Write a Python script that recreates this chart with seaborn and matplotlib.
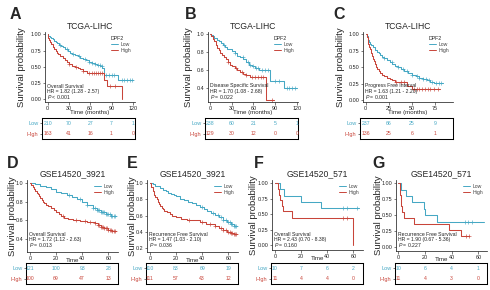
import numpy as np
import matplotlib
matplotlib.use('Agg')
import matplotlib.pyplot as plt
import seaborn as sns
from matplotlib.lines import Line2D

LOW = '#46a8c4'
HIGH = '#c8453a'

# ---- A: TCGA-LIHC, overall survival ----
a_low_t = [0, 1, 3, 5, 7, 9, 11, 13, 16, 19, 22, 25, 28, 31, 34, 38, 42, 46, 50, 54, 58, 62, 66, 70, 74, 77, 80, 99]
a_low_s = [1, .98, .96, .94, .92, .90, .88, .86, .84, .82, .80, .78, .75, .72, .70, .68, .66, .64, .62, .60, .58, .56, .54, .53, .51, .48, .37, .30]
a_low_c = [18, 27, 36, 44, 52, 58, 63, 67, 71, 73, 76, 82, 86, 90, 94, 104, 108, 112, 116, 119]
a_low_end = 120
a_high_t = [0, 1, 2, 3, 5, 7, 9, 11, 13, 15, 18, 21, 24, 27, 30, 34, 38, 42, 46, 50, 55, 80, 84, 105]
a_high_s = [1, .95, .91, .88, .85, .81, .78, .75, .72, .69, .66, .63, .61, .58, .55, .52, .50, .48, .46, .44, .40, .30, .20, 0]
a_high_c = [30, 40, 50, 58, 62, 65, 68, 71, 74, 77, 88, 95]
a_high_end = 105
a_risk_low = [210, 70, 27, 7, 1]
a_risk_high = [163, 41, 16, 1, 0]

# ---- B: TCGA-LIHC, disease specific survival ----
b_low_t = [0, 2, 4, 6, 9, 12, 15, 18, 21, 24, 27, 30, 34, 38, 42, 46, 50, 54, 58, 62, 68, 83, 102]
b_low_s = [1, .99, .98, .96, .94, .92, .90, .88, .86, .84, .83, .81, .79, .76, .74, .72, .69, .66, .64, .62, .60, .48, .40]
b_low_c = [20, 35, 45, 52, 56, 60, 64, 67, 72, 76, 80, 90, 95, 106, 110, 114, 118]
b_low_end = 120
b_high_t = [0, 2, 4, 6, 8, 10, 12, 14, 16, 19, 22, 25, 28, 31, 34, 38, 42, 46, 50, 55, 78]
b_high_s = [1, .98, .95, .92, .88, .85, .82, .79, .77, .74, .72, .69, .66, .64, .62, .60, .58, .56, .54, .52, .26]
b_high_c = [25, 36, 44, 50, 58, 62, 66, 70, 74, 86]
b_high_end = 88
b_risk_low = [238, 60, 21, 5, 1]
b_risk_high = [129, 30, 12, 0, 0]

# ---- C: TCGA-LIHC, progress free interval ----
c_low_t = [0, 1, 2, 3, 4, 5, 6, 8, 10, 12, 14, 16, 18, 20, 23, 26, 29, 32, 35, 38, 42, 46, 50, 54, 58, 62, 66, 70, 74]
c_low_s = [1, .97, .94, .91, .88, .86, .84, .80, .76, .73, .71, .69, .66, .64, .61, .58, .55, .52, .50, .47, .44, .41, .38, .36, .34, .32, .30, .28, .26]
c_low_c = [20, 28, 35, 40, 45, 50, 55, 58, 62, 65, 68, 72, 76, 79, 82]
c_low_end = 84
c_high_t = [0, 1, 2, 3, 4, 5, 6, 7, 8, 9, 10, 11, 12, 14, 16, 18, 20, 23, 26, 29, 32, 45, 50]
c_high_s = [1, .96, .91, .86, .81, .77, .72, .67, .63, .59, .55, .51, .47, .44, .41, .38, .36, .34, .32, .30, .27, .21, .17]
c_high_c = [33, 38, 42, 52, 55, 58, 61, 64, 67, 70, 74, 78]
c_high_end = 80
c_risk_low = [237, 66, 25, 9]
c_risk_high = [136, 25, 6, 1]

# ---- D: GSE14520_3921, overall survival ----
d_low_t = [0, 4, 8, 12, 16, 20, 24, 28, 32, 36, 40, 44, 48, 51, 54, 58, 62]
d_low_s = [1, .99, .97, .96, .94, .91, .89, .87, .85, .83, .80, .77, .73, .71, .69, .67, .65]
d_low_c = [30, 38, 44, 48, 50, 51, 52, 53, 54, 55, 56, 57, 58, 59, 60, 61, 62, 63, 64, 65]
d_low_end = 66
d_high_t = [0, 1, 2, 3, 4, 5, 6, 7, 8, 9, 10, 11, 12, 14, 16, 18, 20, 22, 24, 26, 29, 33, 38, 44, 50, 52, 54, 57, 60, 63]
d_high_s = [1, .98, .96, .94, .92, .90, .88, .86, .84, .82, .80, .79, .77, .75, .73, .71, .69, .67, .65, .63, .62, .60, .59, .58, .57, .55, .53, .52, .50, .49]
d_high_c = [25, 35, 42, 46, 50, 52, 53, 54, 55, 56, 57, 58, 59, 60, 61, 62, 63, 64, 65]
d_high_end = 66
d_risk_low = [121, 100, 93, 28]
d_risk_high = [100, 69, 47, 13]

# ---- E: GSE14520_3921, recurrence free survival ----
e_low_t = [0, 2, 4, 6, 8, 10, 12, 14, 16, 18, 20, 23, 26, 29, 32, 35, 38, 41, 44, 47, 50, 53, 56, 59, 62, 64]
e_low_s = [1, .99, .97, .96, .94, .92, .90, .88, .87, .85, .84, .81, .79, .77, .75, .73, .71, .68, .66, .63, .61, .58, .55, .52, .50, .47]
e_low_c = [40, 48, 52, 54, 56, 58, 60, 61, 62, 63, 64, 65, 66]
e_low_end = 67
e_high_t = [0, 1, 2, 3, 4, 5, 6, 7, 8, 9, 10, 11, 13, 15, 17, 20, 24, 28, 33, 38, 43, 47, 50, 53, 56, 59, 62, 64]
e_high_s = [1, .95, .90, .86, .83, .80, .77, .74, .72, .70, .68, .66, .64, .62, .60, .58, .56, .55, .54, .52, .50, .49, .47, .45, .42, .40, .38, .37]
e_high_c = [30, 40, 46, 50, 54, 56, 58, 60, 61, 62, 63, 64, 65, 66]
e_high_end = 67
e_risk_low = [110, 83, 69, 19]
e_risk_high = [111, 57, 43, 12]

# ---- F: GSE14520_571, overall survival ----
f_low_t = [0, 4, 7, 20, 35]
f_low_s = [1, .9, .8, .7, .6]
f_low_c = [52, 55, 63]
f_low_end = 64
f_high_t = [0, 2, 3, 4, 5, 6, 13, 59.5]
f_high_s = [1, .909, .818, .727, .636, .545, .436, 0]
f_high_c = [52, 55]
f_high_end = 59.5
f_risk_low = [10, 7, 6, 2]
f_risk_high = [11, 4, 4, 0]

# ---- G: GSE14520_571, recurrence free survival ----
g_low_t = [0, 2, 6, 10, 19, 20, 29]
g_low_s = [1, .9, .8, .7, .6, .5, .4]
g_low_c = [50, 52, 55]
g_low_end = 64
g_high_t = [0, 1, 2, 3, 4, 12, 38, 47]
g_high_s = [1, .818, .636, .545, .455, .364, .273, .182]
g_high_c = [51, 53]
g_high_end = 53
g_risk_low = [10, 6, 4, 1]
g_risk_high = [11, 4, 3, 0]

W, H = 490, 290

panels = [
    dict(letter='A', lpos=(10, 7), title='TCGA-LIHC', main=(45, 32, 135, 102), table=(42, 118, 135, 139),
         xlim=(-3.8, 123), xticks=[0, 30, 60, 90, 120], ylim=(-0.04, 1.035),
         yticks=[0, .25, .5, .75, 1], yfmt='{:.2f}', xlabel='Time (months)', ylab_off=19,
         low=(a_low_t, a_low_s, a_low_c, a_low_end), high=(a_high_t, a_high_s, a_high_c, a_high_end),
         risk=(a_risk_low, a_risk_high), legend_title='DPF2',
         notes=['Overall Survival', 'HR = 1.82 (1.28 - 2.57)', '$P$ < 0.001'], note_y=(86, 91.5, 97)),
    dict(letter='B', lpos=(185, 7), title='TCGA-LIHC', main=(208, 32, 298, 102), table=(205, 118, 298, 139),
         xlim=(-2.8, 121.8), xticks=[0, 30, 60, 90, 120], ylim=(0.24, 1.026),
         yticks=[.4, .6, .8, 1], yfmt='{:.1f}', xlabel='Time (months)', ylab_off=15,
         low=(b_low_t, b_low_s, b_low_c, b_low_end), high=(b_high_t, b_high_s, b_high_c, b_high_end),
         risk=(b_risk_low, b_risk_high), legend_title='DPF2',
         notes=['Disease Specific Survival', 'HR = 1.70 (1.08 - 2.68)', '$P$ = 0.022'], note_y=(86, 91.5, 97)),
    dict(letter='C', lpos=(333, 7), title='TCGA-LIHC', main=(363, 32, 453, 102), table=(360, 118, 453, 139),
         xlim=(-2.9, 94.5), xticks=[0, 25, 50, 75], ylim=(-0.03, 1.035),
         yticks=[0, .25, .5, .75, 1], yfmt='{:.2f}', xlabel='Time (months)', ylab_off=18,
         low=(c_low_t, c_low_s, c_low_c, c_low_end), high=(c_high_t, c_high_s, c_high_c, c_high_end),
         risk=(c_risk_low, c_risk_high), legend_title='DPF2',
         notes=['Progress Free Interval', 'HR = 1.63 (1.21 - 2.20)', '$P$ = 0.001'], note_y=(86, 91.5, 97)),
    dict(letter='D', lpos=(7, 156), title='GSE14520_3921', main=(27, 180, 118, 252), table=(26, 263, 118, 284),
         xlim=(-2.3, 67.4), xticks=[0, 20, 40, 60], ylim=(0.26, 1.035),
         yticks=[.4, .6, .8, 1], yfmt='{:.1f}', xlabel='Time', ylab_off=10,
         low=(d_low_t, d_low_s, d_low_c, d_low_end), high=(d_high_t, d_high_s, d_high_c, d_high_end),
         risk=(d_risk_low, d_risk_high), legend_title=None,
         notes=['Overall Survival', 'HR = 1.72 (1.12 - 2.63)', '$P$ = 0.013'], note_y=(234, 239.5, 245)),
    dict(letter='E', lpos=(127, 156), title='GSE14520_3921', main=(147, 180, 238, 252), table=(146, 263, 238, 284),
         xlim=(-2.3, 67.4), xticks=[0, 20, 40, 60], ylim=(0.15, 1.04),
         yticks=[.2, .4, .6, .8, 1], yfmt='{:.1f}', xlabel='Time', ylab_off=10,
         low=(e_low_t, e_low_s, e_low_c, e_low_end), high=(e_high_t, e_high_s, e_high_c, e_high_end),
         risk=(e_risk_low, e_risk_high), legend_title=None,
         notes=['Recurrence Free Survival', 'HR = 1.47 (1.03 - 2.10)', '$P$ = 0.036'], note_y=(234, 239.5, 245)),
    dict(letter='F', lpos=(254, 156), title='GSE14520_571', main=(272, 180, 363, 250), table=(271, 263, 363, 284),
         xlim=(-2.3, 67.4), xticks=[0, 20, 40, 60], ylim=(-0.08, 1.053),
         yticks=[0, .25, .5, .75, 1], yfmt='{:.2f}', xlabel='Time', ylab_off=14,
         low=(f_low_t, f_low_s, f_low_c, f_low_end), high=(f_high_t, f_high_s, f_high_c, f_high_end),
         risk=(f_risk_low, f_risk_high), legend_title=None,
         notes=['Overall Survival', 'HR = 2.43 (0.70 - 8.38)', '$P$ = 0.160'], note_y=(234, 239.5, 245)),
    dict(letter='G', lpos=(372, 156), title='GSE14520_571', main=(396, 180, 487, 251), table=(395, 263, 487, 284),
         xlim=(-1.7, 66.5), xticks=[0, 20, 40, 60], ylim=(-0.06, 1.05),
         yticks=[0, .25, .5, .75, 1], yfmt='{:.2f}', xlabel='Time', ylab_off=13,
         low=(g_low_t, g_low_s, g_low_c, g_low_end), high=(g_high_t, g_high_s, g_high_c, g_high_end),
         risk=(g_risk_low, g_risk_high), legend_title=None,
         notes=['Recurrence Free Survival', 'HR = 1.90 (0.67 - 5.36)', '$P$ = 0.227'], note_y=(234, 239.5, 245)),
]

sns.set_style('ticks')
plt.rcParams['font.family'] = ['Liberation Sans', 'DejaVu Sans']
plt.rcParams['mathtext.fontset'] = 'custom'
plt.rcParams['mathtext.it'] = 'Liberation Sans:italic'
plt.rcParams['mathtext.rm'] = 'Liberation Sans'

fig = plt.figure(figsize=(W / 100, H / 100), dpi=100)


def add_ax(r):
    l, t, rr, b = r
    return fig.add_axes([l / W, 1 - b / H, (rr - l) / W, (b - t) / H])


def style_ticks(ax):
    ax.tick_params(length=1.8, width=0.45, pad=0.8, labelsize=3.9, color='#333333', labelcolor='#222222')
    for sp in ax.spines.values():
        sp.set_linewidth(0.55)


for p in panels:
    ax = add_ax(p['main'])
    for key, col in (('low', LOW), ('high', HIGH)):
        t, s, c, end = p[key]
        tt = list(t) + [end]
        ss = list(s) + [s[-1]]
        sns.lineplot(x=tt, y=ss, drawstyle='steps-post', color=col, linewidth=0.75, estimator=None, ax=ax)
        idx = np.searchsorted(tt, c, side='right') - 1
        cy = [ss[i] for i in idx]
        sns.scatterplot(x=c, y=cy, marker='+', color=col, s=7, linewidth=0.45, ax=ax)
    ax.set_xlim(*p['xlim'])
    ax.set_ylim(*p['ylim'])
    ax.set_xticks(p['xticks'])
    ax.set_xticklabels([str(v) for v in p['xticks']])
    ax.set_yticks(p['yticks'])
    ax.set_yticklabels([p['yfmt'].format(v) for v in p['yticks']])
    sns.despine(ax=ax)
    style_ticks(ax)
    l, t, r, b = p['main']
    wpx, hpx = r - l, b - t
    ax.set_ylabel('Survival probability', fontsize=6.8)
    ax.yaxis.set_label_coords(-p['ylab_off'] / wpx, 0.5)
    ax.set_xlabel(p['xlabel'], fontsize=4.4)
    ax.xaxis.set_label_coords(0.5, -(8 if p['legend_title'] else 6) / hpx)
    ax.set_title(p['title'], fontsize=6.2, pad=2.5)
    for txt, ypx in zip(p['notes'], p['note_y']):
        ax.text(0.02, (b - ypx) / hpx, txt, transform=ax.transAxes, fontsize=3.7, va='center', ha='left',
                color='#222222')
    handles = [Line2D([], [], color=LOW, lw=0.7), Line2D([], [], color=HIGH, lw=0.7)]
    leg = ax.legend(handles, ['Low', 'High'], title=p['legend_title'], loc='upper right',
                    bbox_to_anchor=(1.0, 1.0), fontsize=3.7, title_fontsize=3.8, frameon=False,
                    handlelength=1.3, handletextpad=0.5, labelspacing=0.15, borderpad=0.3,
                    alignment='left')
    for txt in leg.get_texts():
        txt.set_color('#444444')
    fig.text(p['lpos'][0] / W, 1 - p['lpos'][1] / H, p['letter'], fontsize=11.5, fontweight='bold',
             va='top', ha='left')

    # number-at-risk table, same time scale as the curve axes
    tb = add_ax(p['table'])
    px_per_unit = wpx / (p['xlim'][1] - p['xlim'][0])
    tl = p['table'][0]
    low_r, high_r = p['risk']
    for row, vals, col in ((1, low_r, LOW), (0, high_r, HIGH)):
        for x, v in zip(p['xticks'], vals):
            tb.text(x, row, str(v), color=col, fontsize=3.7, ha='center', va='center')
    tb.set_xlim(p['xlim'][0] - (l - tl) / px_per_unit, p['xlim'][1])
    tb.set_ylim(-0.5, 1.5)
    tb.set_xticks([])
    tb.set_yticks([1, 0])
    tb.set_yticklabels(['Low', 'High'])
    tb.tick_params(axis='y', length=1.8, width=0.45, pad=0.8, labelsize=4.0)
    for lab, col in zip(tb.get_yticklabels(), (LOW, HIGH)):
        lab.set_color(col)
    for sp in tb.spines.values():
        sp.set_linewidth(0.75)
        sp.set_color('black')

fig.savefig('out.png', dpi=100, facecolor='white')
